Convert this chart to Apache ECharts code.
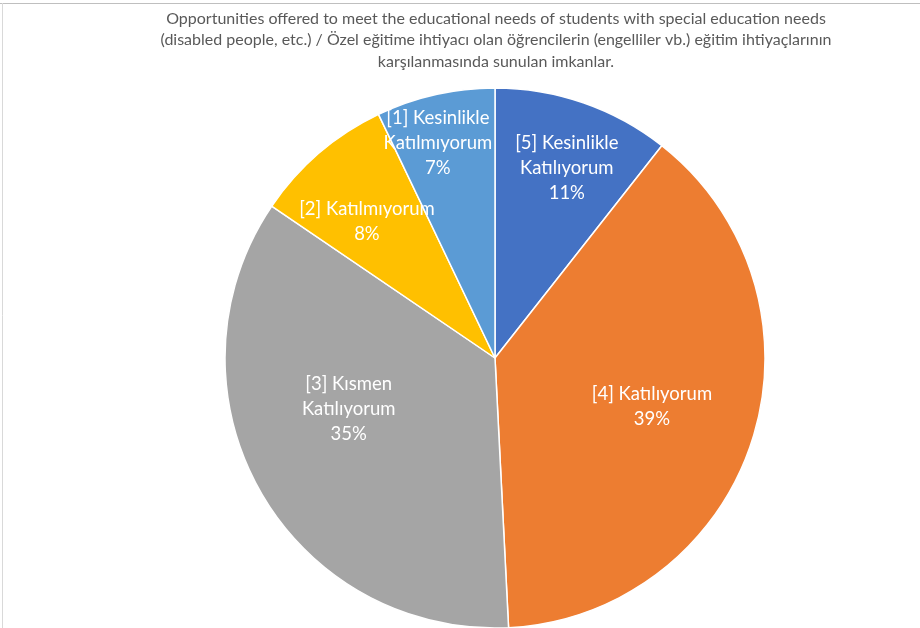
<!DOCTYPE html>
<html>
<head>
<meta charset="utf-8">
<script src="https://cdn.jsdelivr.net/npm/echarts@6/dist/echarts.min.js"></script>
<style>
  html, body { margin: 0; padding: 0; background: #fff; }
  #chart { width: 920px; height: 628px; }
</style>
</head>
<body>
<div id="chart"></div>
<script>
// answer categories, clockwise from 12 o'clock
const categories = ['[5] Kesinlikle\nKatılıyorum', '[4] Katılıyorum', '[3] Kısmen\nKatılıyorum', '[2] Katılmıyorum', '[1] Kesinlikle\nKatılmıyorum']
const shares = [10.6, 38.6, 35.3, 8.4, 7.1]
const colors = ['#4472C4', '#ED7D31', '#A5A5A5', '#FFC000', '#5B9BD5']
// label placement: fraction of radius and angle shift (deg) from the slice middle
const labelRadius = [0.753, 0.608, 0.574, 0.692, 0.824]
const labelShift = [1.6, -0.6, 10.1, -2.6, -2.1]
const titleText = 'Opportunities offered to meet the educational needs of students with special education needs\n(disabled people, etc.) / Özel eğitime ihtiyacı olan öğrencilerin (engelliler vb.) eğitim ihtiyaçlarının\nkarşılanmasında sunulan imkanlar.'

const cx = 495, cy = 358, R = 270
const total = shares.reduce((a, b) => a + b, 0)

var myChart = echarts.init(document.getElementById('chart'))
myChart.setOption({
    animation: false,
    title: {
        text: titleText,
        left: 491,
        textAlign: 'center',
        top: 3,
        textStyle: {
            fontFamily: 'Lato',
            fontWeight: 'normal',
            fontSize: 16,
            lineHeight: 21.5,
            color: '#595959'
        }
    },
    graphic: [
        { type: 'line', shape: { x1: 0, y1: 3.5, x2: 920, y2: 3.5 }, style: { stroke: '#bfbfbf', lineWidth: 1 } },
        { type: 'line', shape: { x1: 2.5, y1: 3, x2: 2.5, y2: 628 }, style: { stroke: '#d9d9d9', lineWidth: 1 } }
    ],
    series: [
        {
            type: 'pie',
            center: [cx, cy],
            radius: R,
            startAngle: 90,
            clockwise: true,
            itemStyle: { borderColor: '#fff', borderWidth: 1.5 },
            label: {
                position: 'inside',
                color: '#fff',
                fontFamily: 'Lato',
                fontSize: 18.5,
                lineHeight: 25,
                align: 'center',
                formatter(p) {
                    return p.name + '\n' + Math.round(p.percent) + '%'
                }
            },
            labelLine: { show: false },
            labelLayout(p) {
                const i = p.dataIndex
                let before = 0
                for (let k = 0; k < i; k++) before += shares[k]
                const mid = (before + shares[i] / 2) / total * Math.PI * 2 + labelShift[i] * Math.PI / 180
                const r = R * labelRadius[i]
                return { x: cx + r * Math.sin(mid), y: cy - r * Math.cos(mid), align: 'center', verticalAlign: 'middle' }
            },
            data: categories.map((name, i) => ({ name, value: shares[i], itemStyle: { color: colors[i] } }))
        }
    ]
})
</script>
</body>
</html>
